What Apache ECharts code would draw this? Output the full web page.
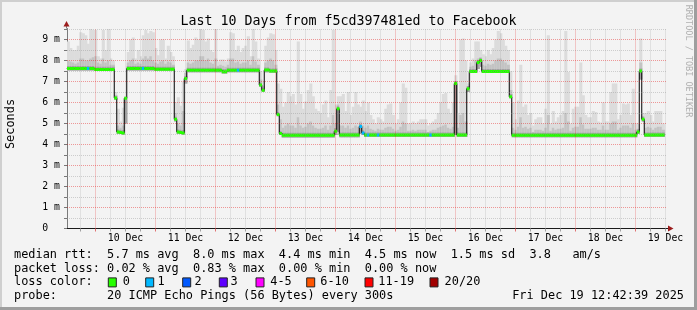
<!DOCTYPE html>
<html><head><meta charset="utf-8">
<script src="https://cdn.jsdelivr.net/npm/echarts@6/dist/echarts.min.js"></script>
<style>html,body{margin:0;padding:0;background:#f3f3f3}#c{width:697px;height:310px}</style>
</head><body><div id="c"></div>
<script>
// ---- time layout (hours relative to 10 Dec 00:00) ----
const FIRST_BIN_HOUR = -11.5;
const X_MIN = -11.4, X_MAX = 228.6;
const Y_MAX = 9.524;

const dayLabels = ['10 Dec','11 Dec','12 Dec','13 Dec','14 Dec','15 Dec','16 Dec','17 Dec','18 Dec','19 Dec'];
const dayLabelHours = [12,36,60,84,108,132,156,180,204,228];
const midnightHours = [0,24,48,72,96,120,144,168,192,216];
const sixHourHours = [-6,6,12,18,30,36,42,54,60,66,78,84,90,102,108,114,126,132,138,150,156,162,174,180,186,198,204,210,222,228];
const yLabelValues = [0,1,2,3,4,5,6,7,8,9];
const yLabelTexts = ['0  ','1 m','2 m','3 m','4 m','5 m','6 m','7 m','8 m','9 m'];
const yMajorLines = [1,2,3,4,5,6,7,8,9];
const yMinorLines = [0.5,1.5,2.5,3.5,4.5,5.5,6.5,7.5,8.5,9.5];
const yTickValues = [0,0.5,1,1.5,2,2.5,3,3.5,4,4.5,5,5.5,6,6.5,7,7.5,8,8.5,9,9.5];

// ---- hourly data (ms) ----
const medianMs = [
7.62,7.62,7.62,7.62,7.62,7.62,7.62,7.62,7.62,7.62,
7.62,7.57,7.57,7.57,7.57,7.57,7.57,7.57,7.57,6.22,
4.60,4.57,4.55,6.20,7.62,7.62,7.62,7.62,7.62,7.62,
7.62,7.62,7.62,7.62,7.62,7.58,7.58,7.58,7.58,7.58,
7.58,7.58,7.58,5.20,4.60,4.57,4.55,7.14,7.53,7.53,
7.53,7.53,7.53,7.53,7.53,7.53,7.53,7.53,7.53,7.53,
7.53,7.53,7.47,7.47,7.53,7.53,7.53,7.53,7.53,7.53,
7.53,7.53,7.53,7.53,7.53,7.53,7.53,6.83,6.58,7.55,
7.55,7.50,7.50,7.50,5.43,4.52,4.44,4.44,4.44,4.44,
4.44,4.44,4.44,4.44,4.44,4.44,4.44,4.44,4.44,4.44,
4.44,4.44,4.44,4.44,4.44,4.44,4.44,4.63,5.70,4.45,
4.45,4.45,4.45,4.45,4.45,4.45,4.45,4.86,4.55,4.45,
4.45,4.45,4.45,4.45,4.45,4.45,4.45,4.45,4.45,4.45,
4.45,4.45,4.45,4.45,4.45,4.45,4.45,4.45,4.45,4.45,
4.45,4.45,4.45,4.45,4.45,4.45,4.45,4.45,4.45,4.45,
4.45,4.45,4.45,4.45,4.45,6.90,4.45,4.45,4.45,4.45,
6.66,7.48,7.48,7.48,7.90,8.00,7.48,7.48,7.48,7.48,
7.48,7.48,7.48,7.48,7.48,7.48,7.48,6.27,4.44,4.44,
4.44,4.44,4.44,4.44,4.44,4.44,4.44,4.44,4.44,4.44,
4.44,4.44,4.44,4.44,4.44,4.44,4.44,4.44,4.44,4.44,
4.44,4.44,4.44,4.44,4.44,4.44,4.44,4.44,4.44,4.44,
4.44,4.44,4.44,4.44,4.44,4.44,4.44,4.44,4.44,4.44,
4.44,4.44,4.44,4.44,4.44,4.44,4.44,4.44,4.60,7.50,
5.20,4.45,4.45,4.45,4.45,4.45,4.45,4.45,4.45
];
// hours (bin index) with lost pings: [bin, lost pings out of 20]; all other bins lost 0
const lossEvents = [[8,1],[30,1],[68,1],[117,1],[118,1],[120,1],[124,1],[145,1]];
const smokeHi = [
8.9,8.6,8.5,8.5,8.7,9.35,9.3,9.2,8.8,9.5,
9.45,9.45,8.2,8.1,9.45,8.5,9.5,8.1,8.0,6.5,
5.7,5.1,5.75,6.3,8.4,9.0,9.1,8.1,8.5,8.2,
9.2,9.45,9.3,9.4,9.35,8.6,8.25,9.0,9.0,8.1,
8.7,8.4,8.2,6.0,6.25,5.85,7.0,7.6,8.95,8.6,
8.75,9.1,9.0,9.5,9.45,8.9,9.05,8.5,8.4,9.5,
7.95,8.05,8.05,7.95,8.1,9.35,9.3,8.5,8.7,8.4,
8.6,8.7,9.15,8.2,9.5,8.9,8.1,7.5,7.0,8.7,
9.1,9.3,9.25,8.5,6.9,6.65,5.8,6.0,6.5,6.3,
6.4,5.9,8.9,6.4,5.7,6.05,6.6,6.9,6.3,5.7,
5.6,5.5,5.9,6.1,5.3,6.6,9.45,5.9,6.3,6.3,
6.4,5.6,6.5,5.4,5.8,6.5,5.9,5.8,6.1,5.6,
6.0,5.4,5.2,5.0,5.3,5.2,5.1,5.7,5.9,5.95,
5.4,5.0,5.2,6.0,6.9,6.7,5.0,5.0,5.1,5.0,
5.1,5.2,5.2,5.2,4.9,5.0,5.1,5.2,5.5,6.0,
6.4,6.45,5.7,5.5,6.0,7.3,5.5,9.0,9.05,8.0,
6.9,7.9,8.1,8.9,8.9,8.5,8.3,8.2,8.5,8.3,
8.6,9.0,9.4,9.3,9.0,8.7,8.5,7.5,6.0,5.2,
6.1,7.8,5.8,5.9,5.4,5.5,4.9,5.2,5.3,5.3,
5.0,5.7,9.2,5.0,5.6,5.1,5.3,5.4,5.6,9.4,
7.45,5.0,5.7,5.8,5.8,7.9,6.35,5.4,5.3,5.3,
5.6,5.55,5.1,5.05,6.0,5.1,5.1,6.5,6.9,6.9,
5.2,5.4,5.95,5.9,5.95,5.4,6.65,5.0,5.0,9.05,
5.5,5.5,5.6,5.4,5.1,5.6,5.6,5.6,5.0
];
const smokeMid = [
8.0,7.95,7.9,7.85,7.9,8.1,8.1,8.0,8.0,8.1,
8.15,8.2,7.9,7.85,8.1,7.9,8.0,7.8,7.8,6.35,
4.9,4.8,4.9,6.1,7.9,8.0,8.1,7.85,7.9,7.85,
8.1,8.2,8.1,8.2,8.0,7.9,7.85,7.95,8.0,7.85,
7.95,7.9,7.8,5.5,5.0,4.9,5.6,7.4,7.9,7.85,
7.9,8.0,8.0,8.2,8.2,8.0,8.1,7.9,7.85,8.1,
7.75,7.8,7.75,7.7,7.8,8.1,8.1,7.9,7.95,7.85,
7.9,7.9,8.0,7.8,8.2,7.95,7.8,7.1,6.8,7.9,
8.0,8.1,8.0,7.8,5.9,5.2,4.8,4.9,5.0,4.9,
4.9,4.8,5.3,4.9,4.8,4.85,5.0,5.1,4.9,4.8,
4.75,4.75,4.8,4.9,4.7,4.9,5.4,5.0,5.9,4.9,
4.9,4.8,4.9,4.75,4.8,4.9,4.85,5.1,4.9,4.8,
4.9,4.75,4.7,4.65,4.75,4.7,4.7,4.8,4.85,4.85,
4.75,4.65,4.7,4.85,5.1,5.0,4.65,4.65,4.7,4.65,
4.7,4.7,4.7,4.7,4.6,4.65,4.7,4.7,4.8,4.85,
4.9,4.95,4.8,4.75,4.85,6.95,4.8,5.4,5.5,5.1,
6.75,7.7,7.75,8.0,8.1,8.15,7.8,7.75,7.85,7.8,
7.85,8.0,8.1,8.1,8.0,7.9,7.8,6.6,4.8,4.7,
4.85,5.3,4.8,4.85,4.75,4.8,4.6,4.7,4.7,4.7,
4.65,4.8,5.4,4.65,4.8,4.7,4.75,4.75,4.8,5.5,
5.1,4.65,4.8,4.85,4.85,5.3,4.95,4.75,4.75,4.75,
4.8,4.8,4.7,4.7,4.9,4.7,4.7,5.0,5.1,5.1,
4.7,4.8,4.9,4.9,4.9,4.8,5.0,4.7,4.75,7.9,
5.35,4.8,4.85,4.8,4.7,4.8,4.85,4.85,4.7
];
const smokeDark = [
7.74,7.74,7.74,7.74,7.74,7.74,7.74,7.74,7.74,7.74,
7.74,7.70,7.70,7.70,7.70,7.70,7.70,7.70,7.70,6.32,
4.72,4.70,4.68,6.25,7.74,7.74,7.74,7.74,7.74,7.74,
7.74,7.74,7.74,7.74,7.74,7.70,7.70,7.70,7.70,7.70,
7.70,7.70,7.70,5.32,4.72,4.70,4.68,7.26,7.65,7.65,
7.65,7.65,7.65,7.65,7.65,7.65,7.65,7.65,7.65,7.65,
7.65,7.65,7.60,7.60,7.65,7.65,7.65,7.65,7.65,7.65,
7.65,7.65,7.65,7.65,7.65,7.65,7.65,6.95,6.70,7.67,
7.67,7.62,7.62,7.62,5.55,4.64,4.56,4.56,4.56,4.56,
4.56,4.56,4.56,4.56,4.56,4.56,4.56,4.56,4.56,4.56,
4.56,4.56,4.56,4.56,4.56,4.56,4.56,4.78,5.82,4.57,
4.57,4.57,4.57,4.57,4.57,4.57,4.57,4.98,4.67,4.57,
4.57,4.57,4.57,4.57,4.57,4.57,4.57,4.57,4.57,4.57,
4.57,4.57,4.57,4.57,4.57,4.57,4.57,4.57,4.57,4.57,
4.57,4.57,4.57,4.57,4.57,4.57,4.57,4.57,4.57,4.57,
4.57,4.57,4.57,4.57,4.57,7.02,4.57,4.57,4.57,4.57,
6.78,7.60,7.60,7.60,8.02,8.12,7.60,7.60,7.60,7.60,
7.60,7.60,7.60,7.60,7.60,7.60,7.60,6.40,4.56,4.56,
4.56,4.56,4.56,4.56,4.56,4.56,4.56,4.56,4.56,4.56,
4.56,4.56,4.56,4.56,4.56,4.56,4.56,4.56,4.56,4.56,
4.56,4.56,4.56,4.56,4.56,4.56,4.56,4.56,4.56,4.56,
4.56,4.56,4.56,4.56,4.56,4.56,4.56,4.56,4.56,4.56,
4.56,4.56,4.56,4.56,4.56,4.56,4.56,4.56,4.72,7.62,
5.32,4.57,4.57,4.57,4.57,4.57,4.57,4.57,4.57
];
const smokeLo = [
7.52,7.52,7.52,7.52,7.52,7.52,7.52,7.52,7.52,7.52,
7.52,7.52,7.52,7.52,7.52,7.52,7.52,7.52,7.52,6.12,
4.50,4.50,4.48,5.00,7.52,7.52,7.52,7.52,7.52,7.52,
7.52,7.52,7.52,7.52,7.52,7.52,7.52,7.52,7.52,7.52,
7.52,7.52,7.52,5.10,4.50,4.50,4.48,6.90,7.44,7.44,
7.44,7.44,7.44,7.44,7.44,7.44,7.44,7.44,7.44,7.44,
7.44,7.44,7.38,7.38,7.44,7.44,7.44,7.44,7.44,7.44,
7.44,7.44,7.44,7.44,7.44,7.44,7.44,6.75,6.50,7.44,
7.44,7.42,7.42,7.42,5.35,4.45,4.33,4.33,4.33,4.33,
4.33,4.33,4.33,4.33,4.33,4.33,4.33,4.33,4.33,4.33,
4.33,4.33,4.33,4.33,4.33,4.33,4.33,4.45,4.60,4.35,
4.35,4.35,4.35,4.35,4.35,4.35,4.35,4.50,4.45,4.36,
4.36,4.36,4.36,4.36,4.36,4.36,4.36,4.36,4.36,4.36,
4.36,4.36,4.36,4.36,4.36,4.36,4.36,4.36,4.36,4.36,
4.36,4.36,4.36,4.36,4.36,4.36,4.36,4.36,4.36,4.36,
4.36,4.36,4.36,4.36,4.36,4.45,4.36,4.36,4.36,4.36,
6.50,7.40,7.40,7.40,7.60,7.70,7.40,7.40,7.40,7.40,
7.40,7.40,7.40,7.40,7.40,7.40,7.40,6.20,4.35,4.35,
4.35,4.35,4.35,4.35,4.35,4.35,4.35,4.35,4.35,4.35,
4.35,4.35,4.35,4.35,4.35,4.35,4.35,4.35,4.35,4.35,
4.35,4.35,4.35,4.35,4.35,4.35,4.35,4.35,4.35,4.35,
4.35,4.35,4.35,4.35,4.35,4.35,4.35,4.35,4.35,4.35,
4.35,4.35,4.35,4.35,4.35,4.35,4.35,4.35,4.50,7.10,
5.10,4.36,4.36,4.36,4.36,4.36,4.36,4.36,4.36
];

// ---- legend / text ----
const lossColors = ['#26ff00','#00b8ff','#0059ff','#5e00ff','#ff00ff','#ff5500','#ff0000','#a10000'];
const lossLabels = ['0','1','2','3','4-5','6-10','11-19','20/20'];
const lossIndexOfCount = c => c===1?1:c===2?2:c===3?3:(c>=4&&c<=5)?4:(c>=6&&c<=10)?5:(c>=11&&c<=19)?6:c>=20?7:0;
const titleText = 'Last 10 Days from f5cd397481ed to Facebook';
const legendLines = [
  'median rtt:  5.7 ms avg  8.0 ms max  4.4 ms min  4.5 ms now  1.5 ms sd  3.8   am/s',
  'packet loss: 0.02 % avg  0.83 % max  0.00 % min  0.00 % now',
  'loss color:',
  'probe:       20 ICMP Echo Pings (56 Bytes) every 300s'
];
const dateText = 'Fri Dec 19 12:42:39 2025';

// ---- styles ----
const MONO = '"DejaVu Sans Mono", monospace';
const SMOKE_LIGHT = '#dcdcdc', SMOKE_MID = '#c3c3c3', SMOKE_DARK = '#a2a2a2';
const minorStyle = {color:'rgba(143,143,143,0.38)', type:[1,1], width:1};
const majorStyle = {color:'rgba(229,0,0,0.38)', type:[1,1], width:1};

const nBins = medianMs.length;
const lossCount = medianMs.map(()=>0);
lossEvents.forEach(e=>{ lossCount[e[0]] = e[1]; });
const smokeData = medianMs.map((m,k)=>[FIRST_BIN_HOUR+k, smokeLo[k], smokeDark[k], smokeMid[k], smokeHi[k]]);
const medLineData = medianMs.map((m,k)=>[FIRST_BIN_HOUR+k, m]).concat([[FIRST_BIN_HOUR+nBins, medianMs[nBins-1]]]);
const medColorData = medianMs.map((m,k)=>[FIRST_BIN_HOUR+k, m, lossCount[k]]);

const gridLines = [].concat(
  sixHourHours.map(h=>({xAxis:h, lineStyle:minorStyle})),
  yMinorLines.map(v=>({yAxis:v, lineStyle:minorStyle})),
  midnightHours.map(h=>({xAxis:h, lineStyle:majorStyle})),
  yMajorLines.map(v=>({yAxis:v, lineStyle:majorStyle}))
);

function renderSmoke(params, api){
  const x = api.value(0);
  const w = api.size([1,0])[0] + 0.6;
  const px = api.coord([x,0])[0];
  const lo = api.value(1);
  const band = (top, fill) => {
    const y1 = api.coord([x, top])[1], y0 = api.coord([x, lo])[1];
    return {type:'rect', shape:{x:px, y:y1, width:w, height:y0-y1}, style:{fill:fill}};
  };
  return {type:'group', children:[band(api.value(4), SMOKE_LIGHT), band(api.value(3), SMOKE_MID), band(api.value(2), SMOKE_DARK)]};
}
function renderMedian(params, api){
  const x = api.value(0), v = api.value(1), c = api.value(2);
  const p = api.coord([x, v]);
  const w = api.size([1,0])[0];
  return {type:'rect', shape:{x:p[0], y:p[1]-1.5, width:w+0.3, height:3}, style:{fill: lossColors[lossIndexOfCount(c)]}};
}

const graphics = [
  {type:'rect', shape:{x:0,y:0,width:697,height:2}, style:{fill:'#cfcfcf'}, silent:true},
  {type:'rect', shape:{x:0,y:0,width:2,height:310}, style:{fill:'#cfcfcf'}, silent:true},
  {type:'rect', shape:{x:0,y:307,width:697,height:3}, style:{fill:'#9e9e9e'}, silent:true},
  {type:'rect', shape:{x:694,y:0,width:3,height:310}, style:{fill:'#9e9e9e'}, silent:true},
  {type:'line', shape:{x1:66.5,y1:28.5,x2:66.5,y2:25}, style:{stroke:'#7a7a7a', lineWidth:1}, silent:true},
  {type:'polygon', shape:{points:[[63.5,26.5],[69.5,26.5],[66.5,21]]}, style:{fill:'#9b1c1c'}, silent:true},
  {type:'line', shape:{x1:667,y1:228.5,x2:669,y2:228.5}, style:{stroke:'#1a1a1a', lineWidth:1}, silent:true},
  {type:'polygon', shape:{points:[[668,225.5],[668,231.5],[673.5,228.5]]}, style:{fill:'#9b1c1c'}, silent:true},
  {type:'text', x:10.5, y:124, rotation:Math.PI/2, style:{text:'Seconds', font:'11.9px '+MONO, fill:'#000', align:'center', verticalAlign:'middle'}, silent:true},
  {type:'text', x:688, y:61, rotation:-Math.PI/2, style:{text:'RRDTOOL / TOBI OETIKER', font:'8.5px '+MONO, fill:'#b0b0b0', align:'center', verticalAlign:'middle'}, silent:true}
];
const legendY = [255.2, 268.8, 282.4, 296.2];
legendLines.forEach((t,i)=>{
  graphics.push({type:'text', x:14, y:legendY[i], style:{text:t, font:'11.9px '+MONO, fill:'#000', align:'left', verticalAlign:'middle'}, silent:true});
});
graphics.push({type:'text', x:684, y:legendY[3], style:{text:dateText, font:'11.9px '+MONO, fill:'#000', align:'right', verticalAlign:'middle'}, silent:true});
const lossBoxX = [108.3, 145.7, 182.7, 219.3, 256, 306.7, 365, 430];
const lossLabelX = [122.8, 157.5, 194.6, 230.6, 270.3, 320.3, 378.3, 444.6];
lossLabels.forEach((lab,i)=>{
  graphics.push({type:'rect', shape:{x:lossBoxX[i], y:legendY[2]-4.5, width:8, height:9}, style:{fill:lossColors[i], stroke:'#222', lineWidth:1}, silent:true});
  graphics.push({type:'text', x:lossLabelX[i], y:legendY[2], style:{text:lab, font:'11.9px '+MONO, fill:'#000', align:'left', verticalAlign:'middle'}, silent:true});
});

const chart = echarts.init(document.getElementById('c'), null, {renderer:'canvas'});
chart.setOption({
  animation:false,
  backgroundColor:'#f3f3f3',
  title:{text:titleText, left:'center', top:9, textStyle:{fontFamily:MONO, fontSize:13.3, fontWeight:'normal', color:'#000', lineHeight:15}},
  grid:{left:67, top:28.5, width:600, height:200, containLabel:false, outerBoundsMode:'none'},
  xAxis:[{
    type:'value', min:X_MIN, max:X_MAX,
    axisLine:{show:true, onZero:false, lineStyle:{color:'#1a1a1a', width:1}},
    axisTick:{show:true, customValues:sixHourHours, length:3, lineStyle:{color:'#a0a0a0'}},
    axisLabel:{show:true, customValues:dayLabelHours, formatter:v=>dayLabels[dayLabelHours.indexOf(v)], margin:5, fontFamily:MONO, fontSize:9.8, color:'#000'},
    splitLine:{show:false}
  },{
    type:'value', min:X_MIN, max:X_MAX, position:'bottom',
    axisLine:{show:false},
    axisTick:{show:true, customValues:midnightHours, length:3, lineStyle:{color:'#e07070'}},
    axisLabel:{show:false}, splitLine:{show:false}
  }],
  yAxis:{
    type:'value', min:0, max:Y_MAX,
    axisLine:{show:true, onZero:false, lineStyle:{color:'#7a7a7a', width:1}},
    axisTick:{show:true, customValues:yTickValues, length:3, lineStyle:{color:'#777'}},
    axisLabel:{show:true, customValues:yLabelValues, formatter:v=>yLabelTexts[yLabelValues.indexOf(v)], margin:7, fontFamily:MONO, fontSize:9.8, color:'#000'},
    splitLine:{show:false}
  },
  graphic:graphics,
  series:[
    {type:'custom', name:'smoke', data:smokeData, renderItem:renderSmoke, clip:true, z:1, encode:{x:0, y:[1,4]}, silent:true},
    {type:'line', name:'median', data:medLineData, step:'end', symbol:'none', clip:true, z:2, silent:true,
     lineStyle:{color:'#000', width:1},
     markLine:{silent:true, symbol:['none','none'], label:{show:false}, animation:false, data:gridLines}},
    {type:'custom', name:'loss', data:medColorData, renderItem:renderMedian, clip:true, z:3, encode:{x:0, y:1}, silent:true}
  ]
});
</script>
</body></html>
